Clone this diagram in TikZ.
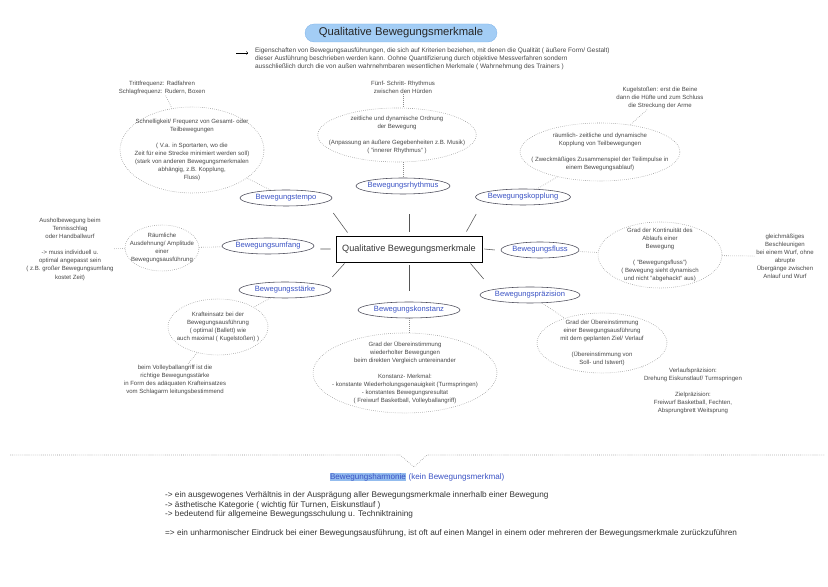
\documentclass[tikz,border=0pt]{standalone}
\usepackage{fontspec}
\setmainfont{Liberation Sans}
\usetikzlibrary{shapes.geometric}

\definecolor{txtgray}{HTML}{474747}
\definecolor{catblue}{HTML}{3B53C4}
\definecolor{catborder}{HTML}{4A4A58}
\definecolor{dotgray}{HTML}{8C8C8C}
\definecolor{spokegray}{HTML}{555555}
\definecolor{titlefill}{HTML}{A3CDF5}
\definecolor{titleborder}{HTML}{78AEE6}
\definecolor{harmhl}{HTML}{93BCEE}

\newcommand{\smalltxt}{\fontsize{8.6}{11.4}\selectfont}
\newcommand{\bottomtxt}{\fontsize{11.7}{13.5}\selectfont}

\begin{document}
\begin{tikzpicture}[
  catnode/.style={ellipse,draw=catborder,line width=0.8pt,text=catblue,
    font=\fontsize{10.8}{12}\selectfont,minimum height=0.8cm,inner sep=-0.3cm},
  detailnode/.style={ellipse,draw=dotgray,dotted,line width=0.8pt,align=center,
    text=txtgray,font=\smalltxt,inner sep=-0.6cm},
  exnode/.style={align=center,text=txtgray,font=\smalltxt,inner sep=1pt},
  dotlink/.style={draw=dotgray,dotted,line width=0.8pt},
  spoke/.style={draw=spokegray,line width=0.8pt}]
  \useasboundingbox (0,0) rectangle (41.4,29.3);

  % title and intro
  \node[draw=titleborder,fill=titlefill,rounded corners=0.45cm,minimum width=9.6cm,
    minimum height=0.9cm,font=\fontsize{16}{18}\selectfont,text=black!85] (title) at (20.05,27.65)
    {Qualitative Bewegungsmerkmale};
  \coordinate (introarrow) at (11.8,26.65);
  \node[anchor=north west,inner sep=0pt,align=left,text=txtgray,font=\fontsize{9.2}{11.4}\selectfont] (intro) at (12.75,26.92)
    {Eigenschaften von Bewegungsausführungen, die sich auf Kriterien beziehen, mit denen die Qualität ( äußere Form/ Gestalt)\\
     dieser Ausführung beschrieben werden kann.  Oohne Quantifizierung durch objektive Messverfahren sondern\\
     ausschließlich durch die von außen wahrnehmbaren wesentlichen Merkmale ( Wahrnehmung des Trainers )};
  \draw[->,line width=0.8pt] (introarrow) -- ([xshift=-0.35cm]introarrow -| intro.west);

  % hub
  \node[draw,line width=1.3pt,minimum width=7.3cm,minimum height=1.3cm,
    font=\fontsize{13}{15}\selectfont,text=black!80] (mainbox) at (20.45,16.85)
    {Qualitative Bewegungsmerkmale};

  % categories
  \node[catnode,minimum width=4.6cm] (tempo) at (14.3,19.4) {Bewegungstempo};
  \node[catnode,minimum width=4.7cm] (rhythmus) at (20.15,20.0) {Bewegungsrhythmus};
  \node[catnode,minimum width=4.75cm] (kopplung) at (26.15,19.45) {Bewegungskopplung};
  \node[catnode,minimum width=4.6cm] (umfang) at (13.4,17.0) {Bewegungsumfang};
  \node[catnode,minimum width=3.9cm] (fluss) at (27.0,16.8) {Bewegungsfluss};
  \node[catnode,minimum width=4.6cm] (staerke) at (14.25,14.8) {Bewegungsstärke};
  \node[catnode,minimum width=5.1cm] (konstanz) at (20.45,13.8) {Bewegungskonstanz};
  \node[catnode,minimum width=5.0cm] (praezision) at (26.5,14.55) {Bewegungspräzision};

  \draw[spoke] ([shift={(0.6,0.15)}]mainbox.north west) -- ([shift={(0.05,-0.75)}]tempo.east);
  \draw[spoke] ([yshift=0.2cm]mainbox.north) -- ([shift={(0.3,-1.0)}]rhythmus.south);
  \draw[spoke] ([shift={(-0.8,0.2)}]mainbox.north east) -- ([shift={(0.05,-0.85)}]kopplung.west);
  \draw[spoke] ([xshift=-0.25cm]mainbox.west) -- ([shift={(0.3,-0.15)}]umfang.east);
  \draw[spoke] ([xshift=0.1cm]mainbox.east) -- ([xshift=-0.3cm]fluss.west);
  \draw[spoke] ([shift={(0.45,-0.05)}]mainbox.south west) -- ([shift={(0.05,0.65)}]staerke.east);
  \draw[spoke] ([yshift=-0.15cm]mainbox.south) -- ([yshift=0.55cm]konstanz.north);
  \draw[spoke] ([shift={(-0.6,-0.05)}]mainbox.south east) -- ([shift={(0.2,0.8)}]praezision.west);

  % Bewegungstempo
  \node[detailnode,minimum width=7.2cm,minimum height=4.3cm] (tempodetail) at (9.6,21.8)
    {Schnelligkeit/ Frequenz von Gesamt- oder\\Teilbewegungen\\[11.4pt]( V.a. in Sportarten, wo die\\
     Zeit für eine Strecke minimiert werden soll)\\(stark von anderen Bewegungsmerkmalen\\abhängig, z.B. Kopplung,\\Fluss)};
  \node[exnode] (tempoex) at (8.1,24.9)
    {Trittfrequenz: Radfahren\\Schlagfrequenz: Rudern, Boxen};
  \draw[dotlink] (tempoex) -- (tempodetail);
  \draw[dotlink] (tempodetail) -- (tempo);

  % Bewegungsrhythmus
  \node[detailnode,minimum width=7.5cm,minimum height=2.7cm] (rhythmusdetail) at (19.85,22.55)
    {zeitliche und dynamische Ordnung\\der Bewegung\\[11.4pt](Anpassung an äußere Gegebenheiten z.B. Musik)\\( "innerer Rhythmus" )};
  \node[exnode] (rhythmusex) at (20.15,24.95)
    {Fünf- Schritt- Rhythmus\\zwischen den Hürden};
  \draw[dotlink] (rhythmusex.south) -- (rhythmusex.south |- rhythmusdetail.north);
  \draw[dotlink] (rhythmusdetail.south -| rhythmus.north) -- (rhythmus.north);

  % Bewegungskopplung
  \node[detailnode,minimum width=7.5cm,minimum height=2.9cm] (kopplungdetail) at (30.0,21.7)
    {räumlich- zeitliche und dynamische\\Kopplung von Teilbewegungen\\[11.4pt]( Zweckmäßiges Zusammenspiel der Teilimpulse in\\einem Bewegungsablauf)};
  \node[exnode] (kopplungex) at (33.0,24.4)
    {Kugelstoßen: erst die Beine\\dann die Hüfte und zum Schluss\\die Streckung der Arme};
  \draw[dotlink] (kopplungex) -- (kopplungdetail);
  \draw[dotlink] (kopplungdetail) -- (kopplung);

  % Bewegungsumfang
  \node[detailnode,minimum width=3.7cm,minimum height=2.3cm] (umfangdetail) at (8.1,16.9)
    {Räumliche\\Ausdehnung/ Amplitude\\einer\\Bewegungsausführung};
  \node[exnode] (umfangex) at (3.5,16.83)
    {Ausholbewegung beim\\Tennisschlag\\oder Handballwurf\\[11.4pt]-> muss individuell u.\\optimal angepasst sein\\( z.B. großer Bewegungsumfang\\kostet Zeit)};
  \draw[dotlink] (umfangex) -- (umfangdetail);
  \draw[dotlink] (umfangdetail) -- (umfang);

  % Bewegungsfluss
  \node[detailnode,minimum width=6.2cm,minimum height=3.3cm] (flussdetail) at (33.0,16.55)
    {Grad der Kontinuität des\\Ablaufs einer\\Bewegung\\[11.4pt]( "Bewegungsfluss")\\( Bewegung  sieht dynamisch\\und nicht "abgehackt" aus)};
  \node[exnode] (flussex) at (39.25,16.48)
    {gleichmäßiges\\Beschleunigen\\bei einem Wurf, ohne\\abrupte\\Übergänge zwischen\\Anlauf und Wurf};
  \draw[dotlink] (fluss) -- (flussdetail);
  \draw[dotlink] (flussdetail) -- (flussex);

  % Bewegungsstaerke
  \node[detailnode,minimum width=5.0cm,minimum height=2.8cm] (staerkedetail) at (10.9,12.95)
    {Krafteinsatz bei der\\Bewegungsausführung\\( optimal (Ballett) wie\\auch maximal ( Kugelstoßen) )};
  \node[exnode] (staerkeex) at (8.75,10.3)
    {beim Volleyballangriff ist die\\richtige Bewegungsstärke\\in Form des adäquaten Krafteinsatzes\\vom Schlagarm leitungsbestimmend};
  \draw[dotlink] (staerke) -- (staerkedetail);
  \draw[dotlink] (staerkedetail) -- (staerkeex);

  % Bewegungskonstanz
  \node[detailnode,minimum width=9.2cm,minimum height=4.0cm] (konstanzdetail) at (20.25,10.65)
    {Grad der Übereinstimmung\\wiederholter Bewegungen\\beim direkten Vergleich untereinander\\[11.4pt]Konstanz- Merkmal:\\
     - konstante Wiederholungsgenauigkeit  (Turmspringen)\\-  konstantes Bewegungsresultat\\( Freiwurf Basketball, Volleyballangriff)};
  \draw[dotlink] (konstanz.south) -- (konstanz.south |- konstanzdetail.north);

  % Bewegungspraezision
  \node[detailnode,minimum width=6.5cm,minimum height=3.0cm] (praezisiondetail) at (30.1,12.15)
    {Grad der Übereinstimmung\\einer Bewegungsausführung\\mit dem geplanten Ziel/ Verlauf\\[11.4pt](Übereinstimmung von\\Soll- und Istwert)};
  \node[exnode] (praezisionex) at (34.65,9.73)
    {Verlaufspräzision:\\Drehung Eiskunstlauf/ Turmspringen\\[11.4pt]Zielpräzision:\\Freiwurf Basketball, Fechten,\\Absprungbrett Weitsprung};
  \draw[dotlink] (praezision) -- (praezisiondetail);
  \draw[dotlink] (praezisiondetail) -- (praezisionex.north west);

  % Bewegungsharmonie
  \draw[dotlink] (0.5,6.55) -- (20.0,6.55) -- (20.7,5.95) -- (21.35,6.55) -- (41.25,6.55);
  \node[text=catblue,font=\fontsize{11.5}{12}\selectfont] (harmonie) at (20.85,5.45)
    {\setlength{\fboxsep}{0.5pt}\colorbox{harmhl}{Bewegungsharmonie} (kein Bewegungsmerkmal)};
  \node[anchor=north west,inner sep=0pt,align=left,text=black!80,font=\bottomtxt] (harmonietext) at (8.25,4.72)
    {-> ein ausgewogenes Verhältnis in der Ausprägung aller Bewegungsmerkmale innerhalb einer Bewegung\\
     -> ästhetische Kategorie ( wichtig für Turnen, Eiskunstlauf )\\
     -> bedeutend für allgemeine Bewegungsschulung  u. Techniktraining\\[13.5pt]
     => ein unharmonischer Eindruck bei einer Bewegungsausführung, ist oft auf einen Mangel in einem oder mehreren der Bewegungsmerkmale zurückzuführen};
\end{tikzpicture}
\end{document}
